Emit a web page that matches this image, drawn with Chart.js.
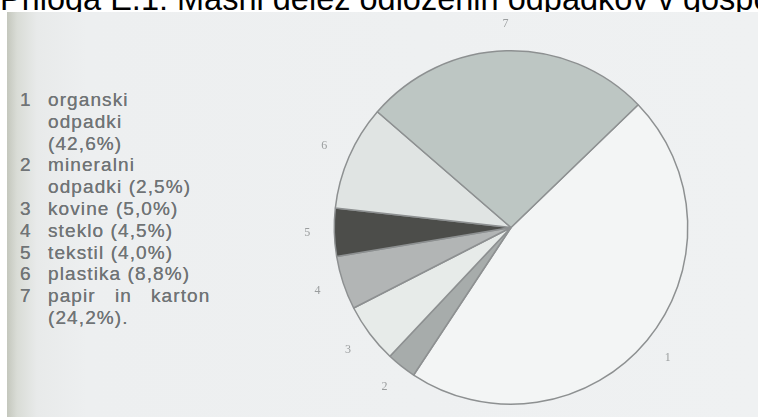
<!DOCTYPE html>
<html>
<head>
<meta charset="utf-8">
<script src="https://cdn.jsdelivr.net/npm/chart.js@4/dist/chart.umd.min.js"></script>
<style>
  html, body { margin: 0; padding: 0; background: #ffffff; overflow: hidden; }
  #page { position: relative; width: 758px; height: 417px; }
  #title {
    position: absolute; left: 0; top: -17.5px; white-space: nowrap;
    font-family: "Liberation Sans", Arial, sans-serif; font-size: 32.5px; line-height: 32.5px; color: #000;
  }
  #scan {
    position: absolute; left: 7px; top: 12px; width: 751px; height: 405px;
    background: linear-gradient(to right, #c4c7bd 0px, #d9dcd6 10px, #e8eaea 30px, #edeff0 80px, #eff1f2 100%);
  }
  #legend {
    position: absolute; left: 0; top: 89px;
    font-family: "Liberation Sans", Arial, sans-serif; font-size: 19px; line-height: 21.8px;
    color: #707476; letter-spacing: 1.1px; text-shadow: 0 0 0.5px #707476;
  }
  #legend div { position: relative; height: 21.8px; white-space: nowrap; }
  #legend .n { position: absolute; left: 20px; }
  #legend .t { position: absolute; left: 48px; }
  #wrap { position: absolute; left: 0; top: 0; width: 758px; height: 417px; }
</style>
</head>
<body>
<div id="page">
  <div id="title">Priloga E.1: Masni delež odloženih odpadkov v gospodinjstvih</div>
  <div id="scan"></div>
  <div id="legend"></div>
  <div id="wrap"><canvas id="pieChart"></canvas></div>
</div>
<script>
// data
const numbers = ["1", "2", "3", "4", "5", "6", "7"];
const legendLines = [
    ["1", "organski"],
    ["", "odpadki"],
    ["", "(42,6%)"],
    ["2", "mineralni"],
    ["", "odpadki (2,5%)"],
    ["3", "kovine (5,0%)"],
    ["4", "steklo (4,5%)"],
    ["5", "tekstil (4,0%)"],
    ["6", "plastika (8,8%)"],
    ["7", "papir&nbsp;&nbsp; in&nbsp;&nbsp; karton"],
    ["", "(24,2%)."]
];
const shares = [42.6, 2.5, 5.0, 4.5, 4.0, 8.8, 24.2];
const sliceColors = ['#f3f5f5', '#a7acab', '#e7ebe9', '#b2b5b5', '#4c4d4a', '#e0e4e3', '#bdc6c3'];

document.addEventListener('DOMContentLoaded', () => {

    // legend on the left, plain html text
    const legend = document.getElementById('legend');
    legendLines.forEach(([n, t]) => {
        const row = document.createElement('div');
        row.innerHTML = '<span class="n">' + n + '</span><span class="t">' + t + '</span>';
        legend.appendChild(row);
    });

    // small grey numbers just outside each slice
    const sliceNumbers = {
        id: 'sliceNumbers',
        afterDatasetsDraw(chart) {
            const ctx = chart.ctx;
            const meta = chart.getDatasetMeta(0);
            ctx.save();
            ctx.font = '12px "Liberation Serif", serif';
            ctx.fillStyle = '#9a9d9e';
            ctx.textAlign = 'center';
            ctx.textBaseline = 'middle';
            meta.data.forEach((arc, i) => {
                const p = arc.getProps(['x', 'y', 'startAngle', 'endAngle', 'outerRadius'], true);
                const mid = (p.startAngle + p.endAngle) / 2;
                const r = p.outerRadius + 27;
                ctx.fillText(numbers[i], p.x + Math.cos(mid) * r, p.y + Math.sin(mid) * r);
            });
            ctx.restore();
        }
    };

    const pieCtx = document.getElementById('pieChart').getContext('2d');
    new Chart(pieCtx, {
        type: 'pie',
        data: {
            labels: numbers,
            datasets: [{
                data: shares,
                backgroundColor: sliceColors,
                borderColor: '#8d9091',
                borderWidth: 1.5,
                hoverOffset: 0
            }]
        },
        options: {
            responsive: true,
            maintainAspectRatio: false,
            animation: false,
            rotation: 46,
            layout: { padding: { left: 333, right: 69, top: 50, bottom: 12 } },
            plugins: {
                legend: { display: false },
                tooltip: { enabled: false }
            }
        },
        plugins: [sliceNumbers]
    });
});
</script>
</body>
</html>
